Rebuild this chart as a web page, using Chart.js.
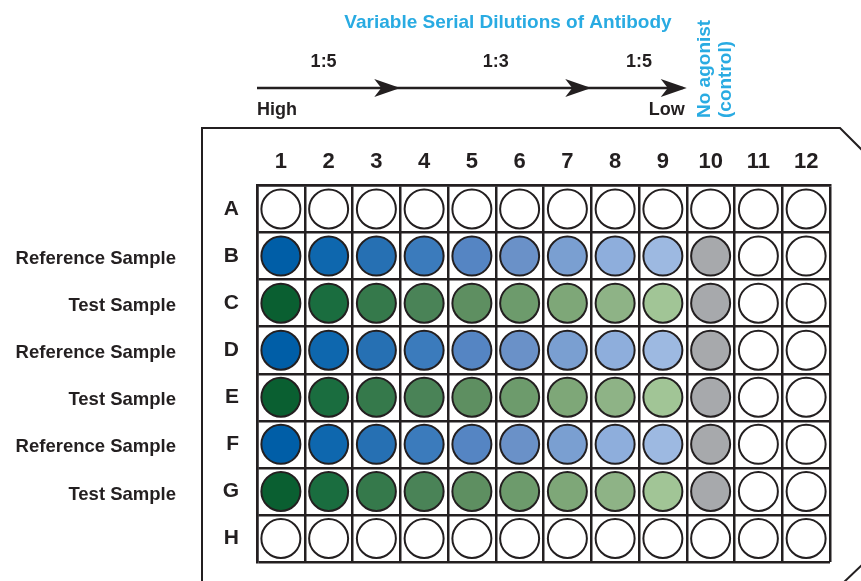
<!DOCTYPE html>
<html>
<head>
<meta charset="utf-8">
<script src="https://cdn.jsdelivr.net/npm/chart.js@4.4.0/dist/chart.umd.min.js"></script>
<style>
  html, body { margin: 0; padding: 0; background: #fff; overflow: hidden; }
  canvas { display: block; }
</style>
</head>
<body>
<canvas id="plate" width="861" height="581"></canvas>
<script>
// plate layout
const columns = ['1','2','3','4','5','6','7','8','9','10','11','12']
const rows = ['A','B','C','D','E','F','G','H']
const sampleLabels = ['', 'Reference Sample', 'Test Sample', 'Reference Sample', 'Test Sample', 'Reference Sample', 'Test Sample', '']
const rowKind = ['empty','reference','test','reference','test','reference','test','empty']

// well fill per column (1..12)
const referenceColors = ['#005ea7','#0e67ae','#2670b3','#3b7bbc','#5585c3','#6a91c8','#7a9fd1','#8eaedc','#9db9e1','#a7a9ac','#ffffff','#ffffff']
const testColors = ['#0a5f31','#1a6d3f','#35794b','#4a8357','#5e8f61','#6d9b6c','#7ea778','#8eb386','#a1c596','#a7a9ac','#ffffff','#ffffff']
const emptyColors = ['#ffffff','#ffffff','#ffffff','#ffffff','#ffffff','#ffffff','#ffffff','#ffffff','#ffffff','#ffffff','#ffffff','#ffffff']

// serial dilution annotation: arrows end at these column boundaries
const dilutionLabels = ['1:5','1:3','1:5']
const dilutionEnds = [3, 7, 9]
const titleText = 'Variable Serial Dilutions of Antibody'
const controlText = ['No agonist', '(control)']

const ink = '#231f20'
const cyan = '#29abe2'
const font = '"Liberation Sans", Arial, Helvetica, sans-serif'

const colorsFor = {empty: emptyColors, reference: referenceColors, test: testColors}

const datasets = rows.map((r, i) => ({
    label: r,
    data: columns.map(c => ({x: c, y: r})),
    backgroundColor: colorsFor[rowKind[i]],
    borderColor: ink,
    borderWidth: 2,
    pointRadius: 19.5,
    pointHoverRadius: 19.5
}))

function drawArrowHead(ctx, x, y) {
    ctx.beginPath()
    ctx.moveTo(x, y)
    ctx.lineTo(x - 26, y - 9)
    ctx.lineTo(x - 19, y)
    ctx.lineTo(x - 26, y + 9)
    ctx.closePath()
    ctx.fill()
}

const extras = {
    id: 'extras',
    afterDraw(chart) {
        const ctx = chart.ctx
        const ys = chart.scales.y
        const area = chart.chartArea
        const colW = (area.right - area.left) / columns.length
        ctx.save()

        // plate outline with cut corners
        ctx.strokeStyle = ink
        ctx.lineWidth = 2
        ctx.beginPath()
        ctx.moveTo(202, 590)
        ctx.lineTo(202, 128)
        ctx.lineTo(840, 128)
        ctx.lineTo(866, 154)
        ctx.stroke()
        ctx.beginPath()
        ctx.moveTo(843, 583)
        ctx.lineTo(863, 564)
        ctx.stroke()

        // sample labels
        ctx.fillStyle = ink
        ctx.font = 'bold 18.5px ' + font
        ctx.textAlign = 'right'
        ctx.textBaseline = 'middle'
        sampleLabels.forEach((s, i) => {
            if (s) ctx.fillText(s, 176, ys.getPixelForValue(i) + 3)
        })

        // dilution arrow
        const ay = 88
        ctx.font = 'bold 18px ' + font
        ctx.lineWidth = 2.5
        ctx.beginPath()
        ctx.moveTo(area.left, ay)
        ctx.lineTo(area.left + dilutionEnds[dilutionEnds.length - 1] * colW - 4, ay)
        ctx.stroke()
        let start = 0
        ctx.textAlign = 'center'
        dilutionEnds.forEach((e, i) => {
            const tip = area.left + e * colW
            drawArrowHead(ctx, tip, ay)
            const mid = area.left + (start + e) / 2 * colW
            ctx.fillText(dilutionLabels[i], mid - (i === 0 ? 5 : 0), 62)
            start = e
        })
        ctx.textAlign = 'left'
        ctx.fillText('High', area.left, 110)
        ctx.textAlign = 'right'
        ctx.fillText('Low', area.left + dilutionEnds[dilutionEnds.length - 1] * colW - 2, 110)

        // title
        ctx.fillStyle = cyan
        ctx.font = 'bold 19px ' + font
        ctx.textAlign = 'center'
        ctx.fillText(titleText, 508, 23)

        // control label (rotated)
        ctx.font = 'bold 19px ' + font
        ctx.translate(705, 118)
        ctx.rotate(-Math.PI / 2)
        ctx.textAlign = 'left'
        ctx.fillText(controlText[0], 0, 0)
        ctx.fillText(controlText[1], 0, 21)
        ctx.restore()
    }
}

new Chart(document.getElementById('plate'), {
    type: 'scatter',
    data: {datasets: datasets},
    options: {
        responsive: false,
        animation: false,
        events: [],
        layout: {autoPadding: false, padding: {top: 0, left: 0, right: 31, bottom: 19}},
        plugins: {legend: {display: false}, tooltip: {enabled: false}},
        scales: {
            x: {
                type: 'category',
                labels: columns,
                position: 'top',
                offset: true,
                grid: {offset: true, color: ink, lineWidth: 2.5, drawTicks: false},
                border: {color: ink, width: 2.5},
                ticks: {color: ink, font: {family: font, size: 22, weight: 'bold'}, padding: 10},
                afterFit(scale) {
                    scale.height = 185.5
                    scale.paddingLeft = 0
                    scale.paddingRight = 0
                }
            },
            y: {
                type: 'category',
                labels: rows,
                offset: true,
                grid: {offset: true, color: ink, lineWidth: 2.5, drawTicks: false},
                border: {color: ink, width: 2.5},
                ticks: {color: ink, font: {family: font, size: 21, weight: 'bold'}, padding: 18},
                afterFit(scale) {
                    scale.width = 257
                    scale.paddingTop = 0
                    scale.paddingBottom = 0
                }
            }
        }
    },
    plugins: [extras]
})
</script>
</body>
</html>
